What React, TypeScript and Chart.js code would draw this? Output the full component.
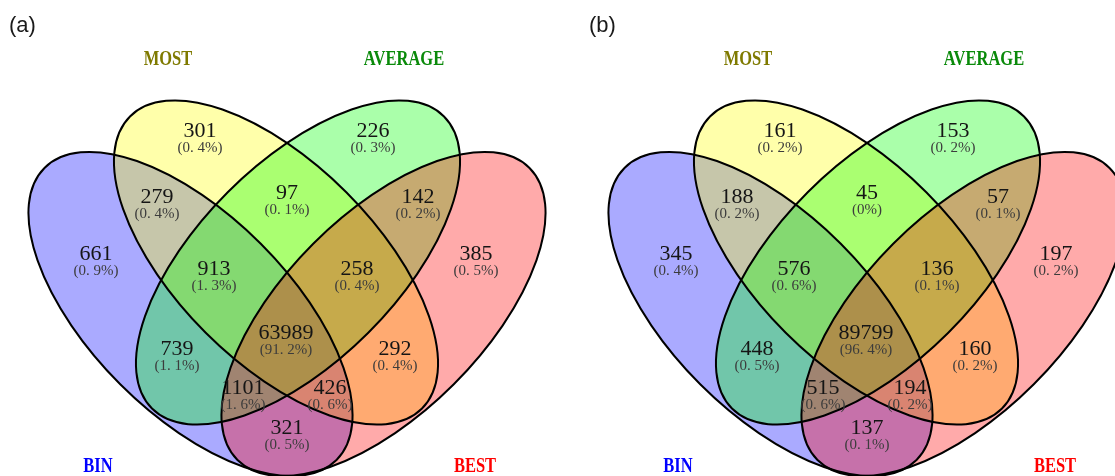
import React, { useEffect, useRef } from 'react';
import { Chart, registerables } from 'chart.js';

Chart.register(...registerables);

// Sets, in drawing order
const setNames = ['BIN', 'MOST', 'AVERAGE', 'BEST'];
const setFills = ['rgba(0,0,255,0.333)', 'rgba(255,255,0,0.333)', 'rgba(0,255,0,0.333)', 'rgba(255,0,0,0.333)'];
const setLabelColors = ['#0000ff', '#7f7a00', '#0a8a0a', '#ff0000'];

// Regions (membership in BIN / MOST / AVERAGE / BEST)
const regionKeys = ['M', 'A', 'BM', 'MA', 'AE', 'B', 'E', 'BMA', 'MAE', 'BMAE', 'BA', 'ME', 'BAE', 'BME', 'BE'];

// Panel (a)
const countsA = [301, 226, 279, 97, 142, 661, 385, 913, 258, 63989, 739, 292, 1101, 426, 321];
const percentsA = ['0.4', '0.3', '0.4', '0.1', '0.2', '0.9', '0.5', '1.3', '0.4', '91.2', '1.1', '0.4', '1.6', '0.6', '0.5'];

// Panel (b)
const countsB = [161, 153, 188, 45, 57, 345, 197, 576, 136, 89799, 448, 160, 515, 194, 137];
const percentsB = ['0.2', '0.2', '0.2', '0', '0.1', '0.4', '0.2', '0.6', '0.1', '96.4', '0.5', '0.2', '0.6', '0.2', '0.1'];

const panelTags = ['(a)', '(b)'];

// ---- layout (panel-local coordinates) ----
const W = 1115;
const H = 476;
const panelOffsets = [0, 580];

const regionAnchors: [number, number][] = [
  [200, 131], [373, 131], [157, 197], [287, 193], [418, 197],
  [96, 254], [476, 254], [214, 269], [357, 269], [286, 333],
  [177, 349], [395, 349], [243, 388], [330, 388], [287, 428],
];

const setLabelAnchors: [number, number][] = [[98, 466], [168, 59], [404, 59], [475, 466]];

// ellipse geometry: centre, semi-axes, rotation (degrees, clockwise on screen)
const ellipseShapes = [
  { cx: 190.5, cy: 314, a: 206.5, b: 99.4, rot: 45 },
  { cx: 276, cy: 262.5, a: 206.5, b: 99.4, rot: 45 },
  { cx: 298, cy: 262.5, a: 206.5, b: 99.4, rot: -45 },
  { cx: 383.5, cy: 314, a: 206.5, b: 99.4, rot: -45 },
];

const fmtPct = (p: string) => `(${p.replace('.', '. ')}%)`;

const vennPlugin = {
  id: 'vennDraw',
  beforeDatasetsDraw(chart: any) {
    const ctx = chart.ctx as CanvasRenderingContext2D;
    const xs = chart.scales.x;
    const ys = chart.scales.y;
    const px = (v: number) => xs.getPixelForValue(v);
    const py = (v: number) => ys.getPixelForValue(v);

    ctx.save();
    ctx.fillStyle = '#ffffff';
    ctx.fillRect(0, 0, chart.width, chart.height);

    panelOffsets.forEach((ox) => {
      const path = (e: typeof ellipseShapes[number]) => {
        const cx = px(ox + e.cx);
        const cy = py(e.cy);
        const rx = Math.abs(px(ox + e.cx + e.a) - cx);
        const ry = Math.abs(px(ox + e.cx + e.b) - cx);
        ctx.beginPath();
        ctx.ellipse(cx, cy, rx, ry, (e.rot * Math.PI) / 180, 0, Math.PI * 2);
      };
      ellipseShapes.forEach((e, i) => {
        path(e);
        ctx.fillStyle = setFills[i];
        ctx.fill();
      });
      ellipseShapes.forEach((e) => {
        path(e);
        ctx.lineWidth = 2;
        ctx.strokeStyle = '#000000';
        ctx.stroke();
      });
    });
    ctx.restore();
  },
  afterDatasetsDraw(chart: any) {
    const ctx = chart.ctx as CanvasRenderingContext2D;
    const xs = chart.scales.x;
    const ys = chart.scales.y;
    const px = (v: number) => xs.getPixelForValue(v);
    const py = (v: number) => ys.getPixelForValue(v);
    const panels = [
      { counts: countsA, pcts: percentsA },
      { counts: countsB, pcts: percentsB },
    ];

    ctx.save();
    ctx.textAlign = 'center';
    ctx.textBaseline = 'middle';

    panels.forEach((panel, pi) => {
      const ox = panelOffsets[pi];
      const meta = chart.getDatasetMeta(pi);
      meta.data.forEach((pt: any, ri: number) => {
        ctx.font = '22px "Liberation Serif", "Times New Roman", serif';
        ctx.fillStyle = '#151515';
        ctx.fillText(String(panel.counts[ri]), pt.x, pt.y);
        ctx.font = '15px "Liberation Serif", "Times New Roman", serif';
        ctx.fillStyle = '#3c3c3c';
        ctx.fillText(fmtPct(panel.pcts[ri]), pt.x, pt.y + 17);
      });

      // set names, bold condensed
      setNames.forEach((name, si) => {
        const [lx, ly] = setLabelAnchors[si];
        ctx.save();
        ctx.translate(px(ox + lx), py(ly));
        ctx.scale(0.75, 1);
        ctx.font = 'bold 22px "Liberation Serif", "Times New Roman", serif';
        ctx.fillStyle = setLabelColors[si];
        ctx.fillText(name, 0, 0);
        ctx.restore();
      });

      // panel tag
      ctx.save();
      ctx.textAlign = 'left';
      ctx.font = '22px "Liberation Sans", Arial, sans-serif';
      ctx.fillStyle = '#1a1a1a';
      ctx.fillText(panelTags[pi], px(ox + 9), py(26));
      ctx.restore();
    });
    ctx.restore();
  },
};

export default function App() {
  const canvasRef = useRef<HTMLCanvasElement | null>(null);

  useEffect(() => {
    document.body.style.margin = '0';
    const canvas = canvasRef.current;
    if (!canvas) return;

    const datasets = panelOffsets.map((ox, pi) => ({
      label: panelTags[pi],
      data: regionKeys.map((_, ri) => ({ x: ox + regionAnchors[ri][0], y: regionAnchors[ri][1] })),
      pointRadius: 0,
      pointHoverRadius: 0,
      showLine: false,
    }));

    const chart = new Chart(canvas, {
      type: 'scatter',
      data: { datasets },
      options: {
        animation: false,
        responsive: false,
        devicePixelRatio: 1,
        layout: { padding: 0 },
        events: [],
        scales: {
          x: { type: 'linear', min: 0, max: W, display: false },
          y: { type: 'linear', min: 0, max: H, reverse: true, display: false },
        },
        plugins: {
          legend: { display: false },
          tooltip: { enabled: false },
        },
      },
      plugins: [vennPlugin],
    });

    return () => chart.destroy();
  }, []);

  return (
    <div style={{ width: W, height: H, background: '#fff' }}>
      <canvas ref={canvasRef} width={W} height={H} style={{ display: 'block' }} />
    </div>
  );
}
